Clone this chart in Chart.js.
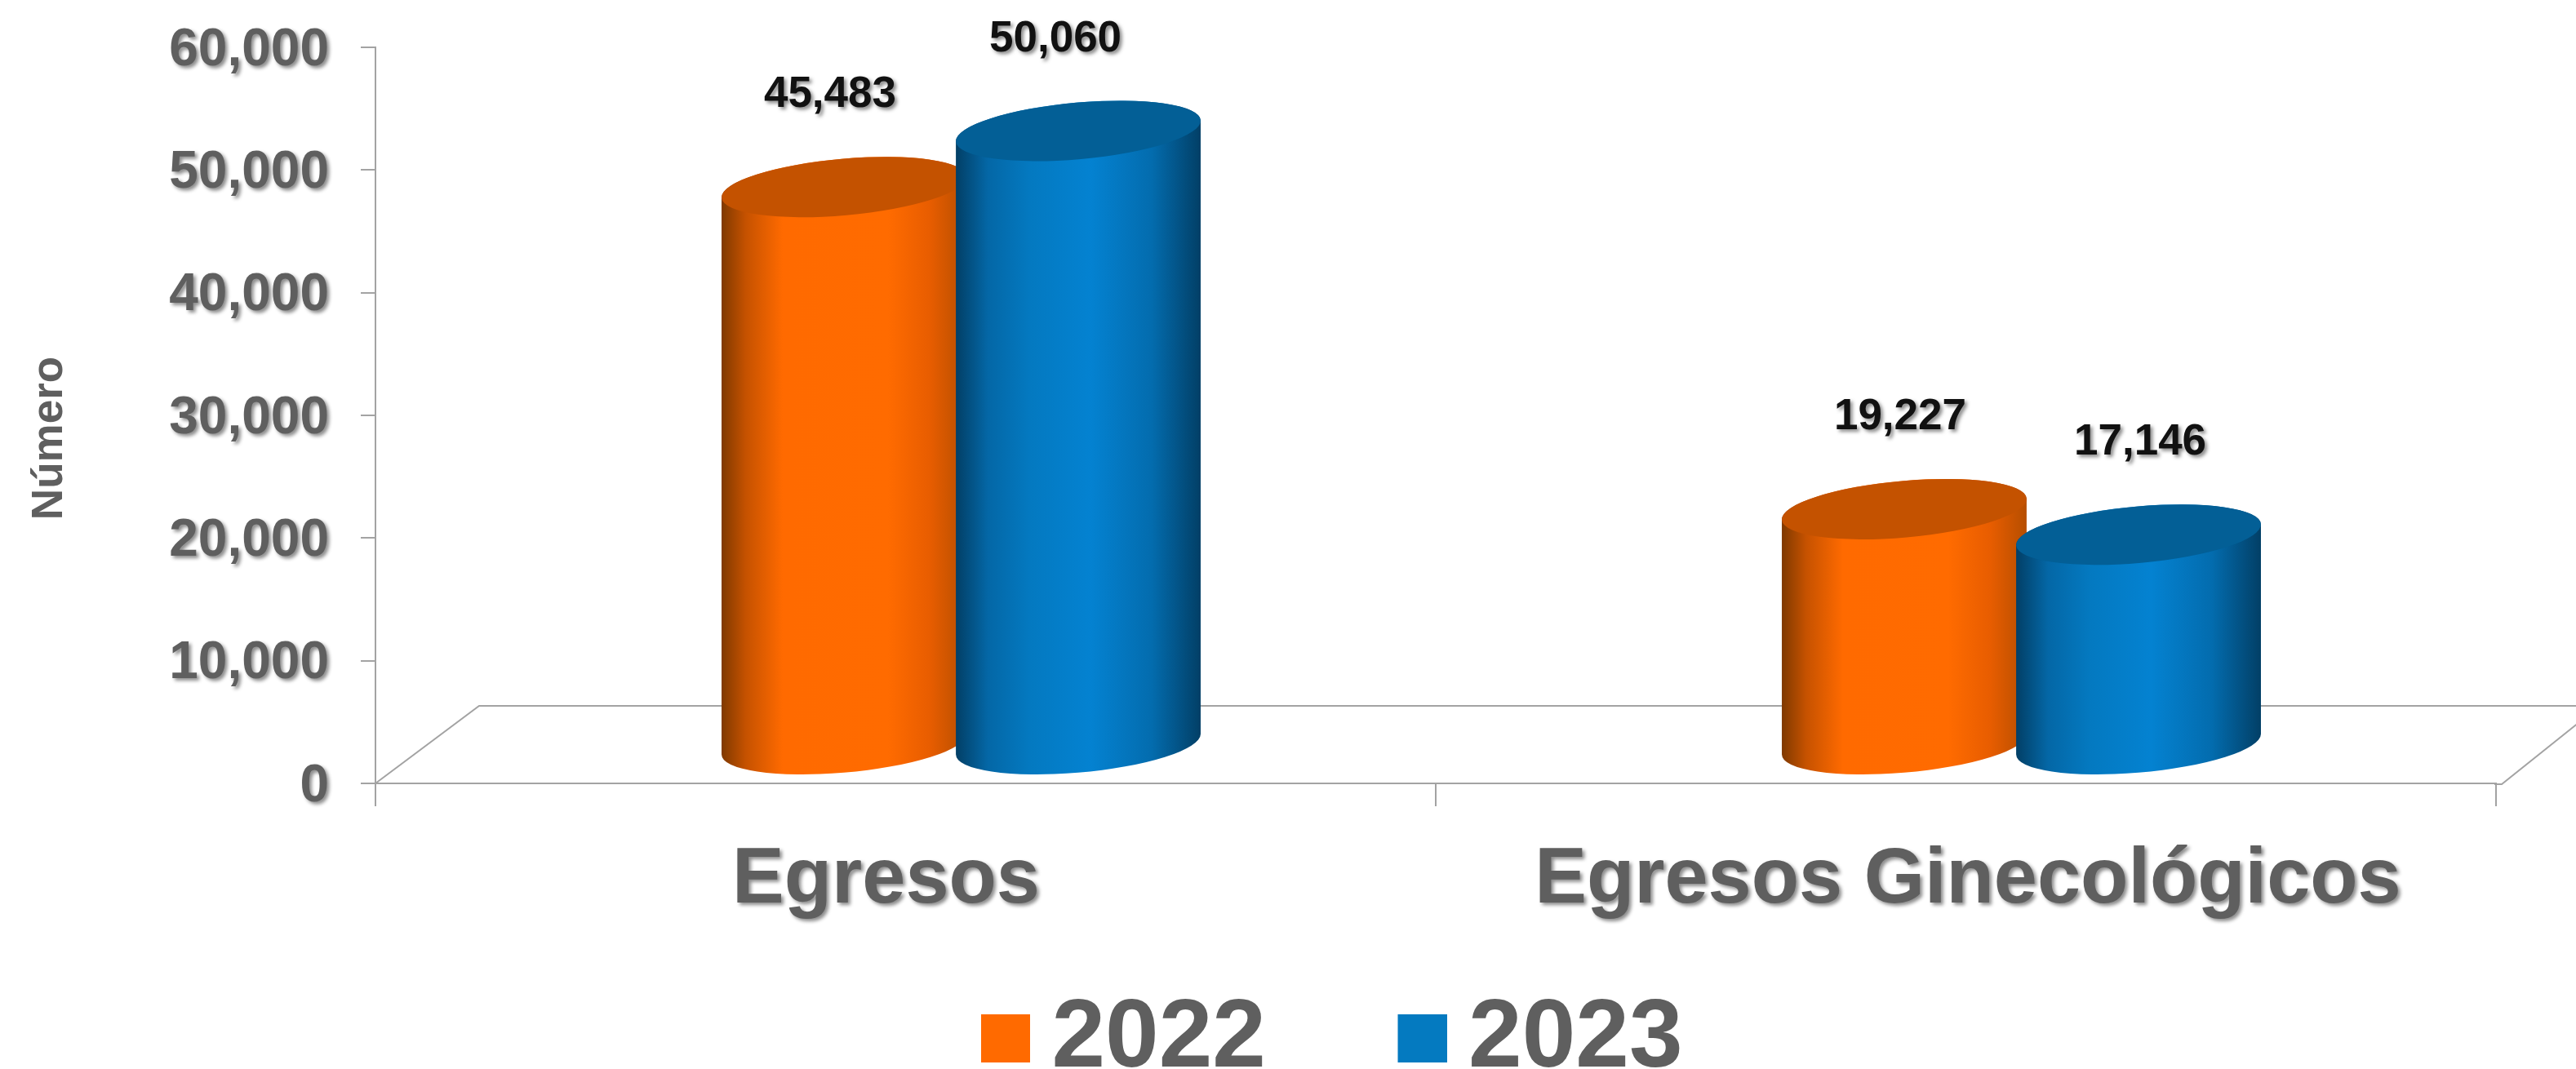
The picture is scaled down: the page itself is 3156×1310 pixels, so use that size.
<!DOCTYPE html>
<html><head><meta charset="utf-8">
<style>html,body{margin:0;padding:0;background:#fff}canvas{display:block}</style>
<script src="https://cdn.jsdelivr.net/npm/chart.js@4"></script>
</head><body><canvas id="c" width="3156" height="1310"></canvas>
<script>
const categories = ['Egresos', 'Egresos Ginecológicos'];
const years = ['2022', '2023'];
const values2022 = [45483, 19227];
const values2023 = [50060, 17146];
const yTicks = [0, 10000, 20000, 30000, 40000, 50000, 60000];
const yTitle = 'Número';

const GRAY = '#5f5f5f', LINE = '#a3a3a3';
const FONT = '"Liberation Sans", Arial, sans-serif';
const palette = [
  {flat:'#ff6a00', cap:'#c45200', stops:[[0,'#7f3900'],[.1,'#c65200'],[.25,'#ff6a00'],[.68,'#ff6b00'],[.85,'#e85d00'],[1,'#b64e00']]},
  {flat:'#047ac0', cap:'#035f96', stops:[[0,'#023f66'],[.13,'#0467a6'],[.3,'#0479c0'],[.55,'#0482d1'],[.8,'#036cae'],[1,'#023f66']]}
];
// Label offsets relative to each cylinder's top centre (per series, per category)
const labelShift = [[[-17,-113],[-5,-113]],[[-28,-112],[2,-113]]];
const catLabelShift = [-24, 2.5];
const yLabelShift = 4;
const DEPTH_X = 68, DEPTH_Y = 47, A = 150.5, B = 34.7, TILT = -0.0885, HALF_W = 150;

function swatch(color){
  const s = document.createElement('canvas'); s.width = 66; s.height = 62;
  const g = s.getContext('2d'); g.fillStyle = color; g.fillRect(6, 0, 60, 59);
  return s;
}
function withShadow(ctx, fn, a=.45){
  ctx.save(); ctx.shadowColor = `rgba(0,0,0,${a})`; ctx.shadowBlur = 4; ctx.shadowOffsetX = 3; ctx.shadowOffsetY = 3;
  fn(); ctx.restore();
}
function cylinder(ctx, cx, top, base, pal){
  const t0 = Math.atan2(-B*Math.sin(TILT), A*Math.cos(TILT));
  const g = ctx.createLinearGradient(cx-HALF_W, 0, cx+HALF_W, 0);
  pal.stops.forEach(s => g.addColorStop(s[0], s[1]));
  ctx.beginPath();
  ctx.ellipse(cx, base, A, B, TILT, t0, t0+Math.PI, false);
  ctx.ellipse(cx, top, A, B, TILT, t0+Math.PI, t0+2*Math.PI, false);
  ctx.closePath(); ctx.fillStyle = g; ctx.fill();
  ctx.beginPath(); ctx.ellipse(cx, top, A, B, TILT, 0, 2*Math.PI); ctx.fillStyle = pal.cap; ctx.fill();
}
const cylinderPlugin = {
  id:'cylinders',
  beforeLayout(chart){
    const lg = chart.legend;
    if (lg && !lg.__fit){ lg.__fit = true; const f = lg.fit; lg.fit = function(){ f.call(this); this.height = 283; }; }
    const zero = () => ({left:0, top:0, right:0, bottom:0});
    Object.values(chart.scales).forEach(sc => { sc.getPadding = zero; });
  },
  afterLayout(chart){ if (chart.legend){ chart.legend.left += 116; chart.legend.right += 116; }
    const {x, y} = chart.scales;
    [x, y].forEach(sc => {
      const dl = sc.drawLabels, dt = sc.drawTitle;
      if (!sc.__wrapped){
        sc.__wrapped = true;
        sc._computeLabelArea = () => undefined;
        sc.drawLabels = function(a){ withShadow(chart.ctx, () => dl.call(this, a)); };
        sc.drawTitle = function(a){ chart.ctx.save(); if (this.axis==='y') chart.ctx.translate(0, 28); dt.call(this, a); chart.ctx.restore(); };
        const o = sc.getLabelItems, seen = new WeakSet();
        sc.getLabelItems = function(a){ const it = o.call(this, a);
          if (!seen.has(it)){ seen.add(it); it.forEach((e,i) => {
            if (this.axis==='x') e.options.translation[0] += catLabelShift[i]; else e.options.translation[1] += yLabelShift;
          }); }
          return it; };
      }
    });
  },
  beforeDatasetsDraw(chart){
    const {ctx, scales:{x, y}} = chart;
    const y0 = y.getPixelForValue(0), L = x.left, R = x.right;
    // floor
    ctx.save(); ctx.strokeStyle = LINE; ctx.lineWidth = 2; ctx.beginPath();
    ctx.moveTo(L, y0); ctx.lineTo(L+127, y0-95); ctx.lineTo(R+127, y0-95); ctx.lineTo(R+7, y0+1); ctx.lineTo(R-2, y0+1); ctx.stroke(); ctx.restore();
    // cylinders
    chart.data.datasets.forEach((ds, di) => {
      chart.getDatasetMeta(di).data.forEach(el => cylinder(ctx, el.x+DEPTH_X, el.y-DEPTH_Y, el.base-DEPTH_Y, palette[di]));
    });
    // value labels
    chart.data.datasets.forEach((ds, di) => {
      chart.getDatasetMeta(di).data.forEach((el, i) => {
        const sh = labelShift[di][i];
        withShadow(ctx, () => {
          ctx.font = `bold 53px ${FONT}`; ctx.fillStyle = '#111'; ctx.textAlign = 'center'; ctx.textBaseline = 'middle';
          ctx.fillText(ds.data[i].toLocaleString('en-US'), el.x+DEPTH_X+sh[0], el.y-DEPTH_Y+sh[1]);
        });
      });
    });
    return false;
  }
};
new Chart(document.getElementById('c'), {
  type:'bar',
  data:{labels:categories, datasets:[
    {label:years[0], data:values2022, backgroundColor:palette[0].flat},
    {label:years[1], data:values2023, backgroundColor:palette[1].flat}
  ]},
  plugins:[cylinderPlugin],
  options:{
    responsive:false, animation:false,
    layout:{padding:{top:58, right:98, left:0, bottom:0}},
    datasets:{bar:{categoryPercentage:.442, barPercentage:1}},
    plugins:{
      tooltip:{enabled:false},
      legend:{position:'bottom', labels:{
        color:GRAY, font:{family:FONT, size:118, weight:'bold'},
        usePointStyle:true, pointStyleWidth:1, boxHeight:59, padding:188,
        generateLabels(chart){
          return Chart.defaults.plugins.legend.labels.generateLabels(chart).map((l,i) => ({...l, pointStyle:swatch(palette[i].flat)}));
        }
      }}
    },
    scales:{
      x:{
        afterFit(s){ s.height = 67; },
        grid:{drawOnChartArea:false, color:LINE, lineWidth:2, tickLength:28, offset:true},
        border:{color:LINE, width:2},
        ticks:{color:GRAY, font:{family:FONT, size:95.5, weight:'bold'}, padding:34, maxRotation:0, autoSkip:false}
      },
      y:{
        min:0, max:60000,
        afterFit(s){ s.width = 460; },
        afterBuildTicks(s){ s.ticks = yTicks.map(v => ({value:v})); },
        title:{display:true, text:yTitle, color:GRAY, font:{family:FONT, size:53, weight:'bold'}, padding:{top:30,bottom:0}},
        grid:{drawOnChartArea:false, color:LINE, lineWidth:2, tickLength:18},
        border:{color:LINE, width:2},
        ticks:{color:GRAY, font:{family:FONT, size:64, weight:'bold'}, padding:39, callback:v => v.toLocaleString('en-US')}
      }
    }
  }
});
</script></body></html>
